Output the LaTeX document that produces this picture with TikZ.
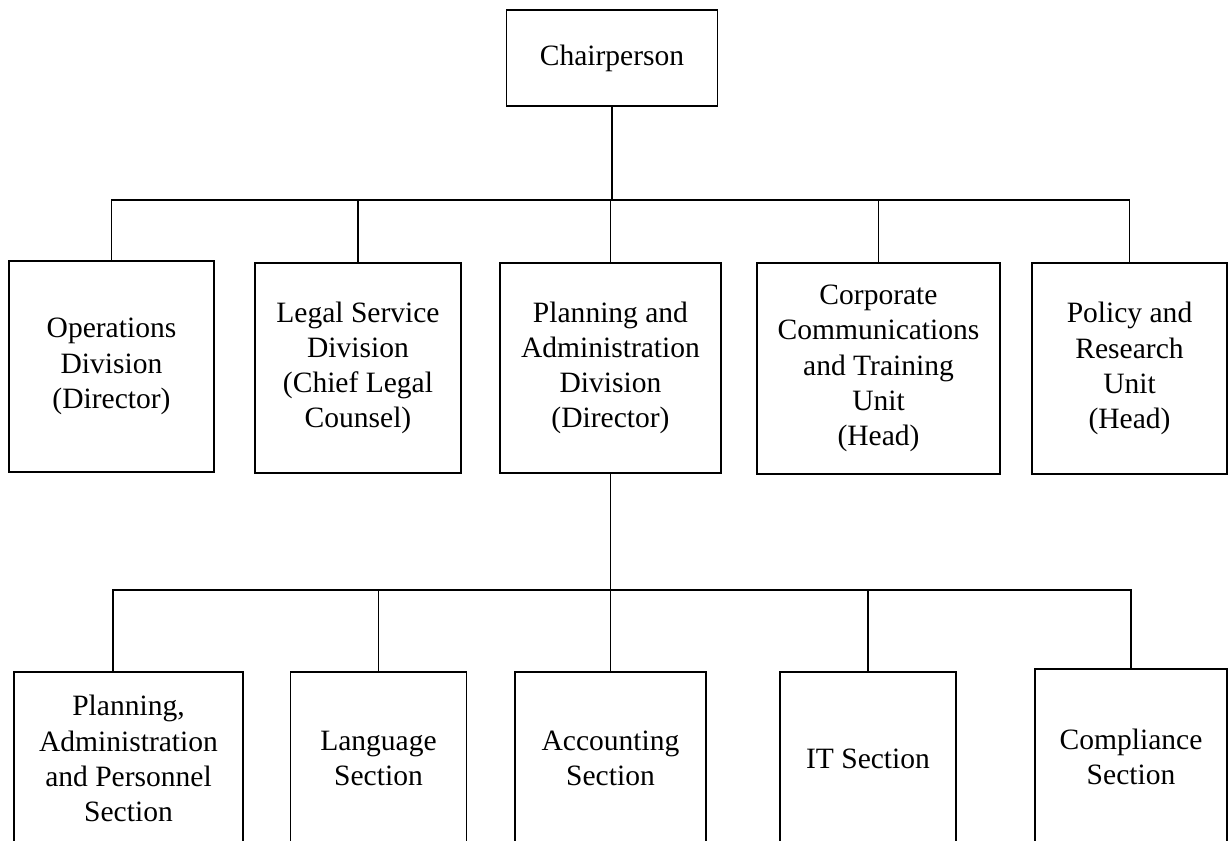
\documentclass[tikz,border=0pt]{standalone}
\usepackage{fontspec}
\setmainfont{Liberation Serif}
\usetikzlibrary{calc}

\newcommand{\pxw}{0.025cm}
\tikzset{
  unit/.style={draw, align=center, inner sep=2pt,
    font=\fontsize{21}{25}\selectfont},
}

\begin{document}
\begin{tikzpicture}[x=0.025cm, y=-0.025cm, line width=1.2pt]
        \useasboundingbox (0,0) rectangle (1230,841);
        \clip (0,0) rectangle (1230,841);
        % Top
        \node[unit, minimum width=211*\pxw, minimum height=96*\pxw] (chair) at (612,58) {Chairperson};
        % Divisions and units
        \node[unit, minimum width=205*\pxw, minimum height=211*\pxw] (opsdiv) at (111.5,366.5) {Operations\\Division\\(Director)};
        \node[unit, minimum width=206*\pxw, minimum height=210*\pxw] (legaldiv) at (358,368) {Legal Service\\Division\\(Chief Legal\\Counsel)};
        \node[unit, minimum width=221*\pxw, minimum height=210*\pxw] (plandiv) at (610.5,368) {Planning and\\Administration\\Division\\(Director)};
        \node[unit, minimum width=243*\pxw, minimum height=211*\pxw] (corpunit) at (878.5,368.5) {Corporate\\Communications\\and Training\\Unit\\(Head)};
        \node[unit, minimum width=195*\pxw, minimum height=211*\pxw] (polunit) at (1129.5,368.5) {Policy and\\Research\\Unit\\(Head)};
        % Sections
        \node[unit, minimum width=229*\pxw, minimum height=173*\pxw] (papsec) at (128.5,758.5) {Planning,\\Administration\\and Personnel\\Section};
        \node[unit, minimum width=176*\pxw, minimum height=173*\pxw] (langsec) at (378.5,758.5) {Language\\Section};
        \node[unit, minimum width=191*\pxw, minimum height=173*\pxw] (accsec) at (610.5,758.5) {Accounting\\Section};
        \node[unit, minimum width=176*\pxw, minimum height=173*\pxw] (itsec) at (868,758.5) {IT Section};
        \node[unit, minimum width=192*\pxw, minimum height=176*\pxw] (compsec) at (1131,757) {Compliance\\Section};
        % Upper bus
        \coordinate (topbus) at (611,200);
        \draw (chair.south) -- (chair.south |- topbus);
        \draw (opsdiv.north) |- (polunit.north |- topbus) -- (polunit.north);
        \foreach \n in {legaldiv, plandiv, corpunit}
            \draw (\n.north) -- (\n.north |- topbus);
        % Lower bus
        \coordinate (lowbus) at (611,590);
        \coordinate (papdrop) at (113,590);
        \draw (plandiv.south) -- (plandiv.south |- lowbus);
        \draw (papdrop |- papsec.north) -- (papdrop) -- (compsec.north |- lowbus) -- (compsec.north);
        \foreach \n in {langsec, accsec, itsec}
            \draw (\n.north) -- (\n.north |- lowbus);
\end{tikzpicture}
\end{document}
